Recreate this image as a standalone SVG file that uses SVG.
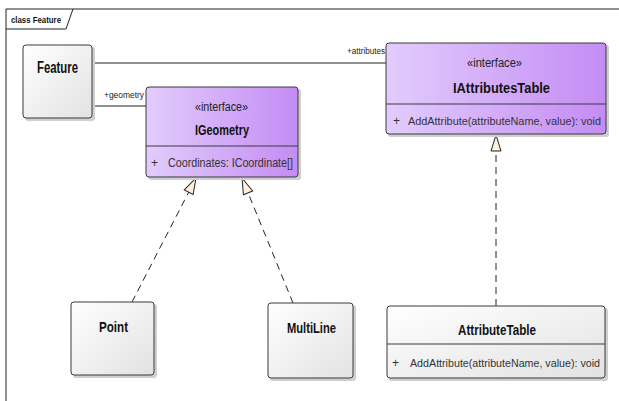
<svg xmlns="http://www.w3.org/2000/svg" width="619" height="401" viewBox="0 0 619 401">
  <defs>
    <linearGradient id="gClass" x1="0" y1="0" x2="1" y2="1">
      <stop offset="0" stop-color="#ffffff"/>
      <stop offset="1" stop-color="#e2e2e2"/>
    </linearGradient>
    <linearGradient id="gIface" x1="0" y1="0" x2="1" y2="0">
      <stop offset="0" stop-color="#e2ccfc"/>
      <stop offset="1" stop-color="#c48cf4"/>
    </linearGradient>
    <marker id="realize" viewBox="0 0 17 12" refX="17" refY="6" markerWidth="17" markerHeight="12" markerUnits="userSpaceOnUse" orient="auto">
      <path d="M1,1 L17,6 L1,11 Z" fill="#fdf0df" stroke="#222" stroke-width="1"/>
    </marker>
  </defs>
  <style>
    .box { stroke: #3a3a3a; stroke-width: 1; }
    .shadow { fill: #cfcfcf; }
    .sep { stroke: #3a3a3a; stroke-width: 1; }
    .name { font-family: "Liberation Sans", Arial, sans-serif; font-weight: bold; fill: #111; }
    .stereo { font-family: "Liberation Sans", Arial, sans-serif; font-size: 12px; fill: #222; }
    .member { font-family: "Liberation Sans", Arial, sans-serif; font-size: 12px; fill: #333; }
    .method { font-family: "Liberation Sans", Arial, sans-serif; font-size: 11px; fill: #333; }
    .role { font-family: "Liberation Sans", Arial, sans-serif; font-size: 8.5px; fill: #222; }
    .assoc { stroke: #222; stroke-width: 1; fill: none; }
    .impl { stroke: #222; stroke-width: 1; fill: none; stroke-dasharray: 7 5; }
  </style>

  <rect x="0" y="0" width="619" height="401" fill="#ffffff"/>

  <!-- package frame -->
  <g id="frame">
    <path d="M6,401 L6,9 L619,9" fill="none" stroke="#222" stroke-width="1"/>
    <path d="M6,29 L66,29 L73,9" fill="none" stroke="#222" stroke-width="1"/>
    <text x="11" y="23" class="name" font-size="9" textLength="50" lengthAdjust="spacingAndGlyphs">class Feature</text>
  </g>

  <!-- connectors -->
  <g id="connectors">
    <line class="assoc" x1="92" y1="63" x2="386" y2="63"/>
    <text class="role" x="385" y="54" text-anchor="end" textLength="38" lengthAdjust="spacingAndGlyphs">+attributes</text>
    <line class="assoc" x1="92" y1="106" x2="146" y2="106"/>
    <text class="role" x="104" y="98" textLength="40" lengthAdjust="spacingAndGlyphs">+geometry</text>
    <line class="impl" x1="132" y1="302" x2="196" y2="178" marker-end="url(#realize)"/>
    <line class="impl" x1="293" y1="303" x2="242" y2="178" marker-end="url(#realize)"/>
    <line class="impl" x1="496" y1="306" x2="496" y2="135" marker-end="url(#realize)"/>
  </g>

  <g id="Feature">
    <rect class="shadow" x="25" y="47" width="70" height="74" rx="3"/>
    <rect class="box" x="23" y="45" width="69" height="73" rx="3" fill="url(#gClass)"/>
    <text class="name" x="37" y="73" font-size="16" textLength="41" lengthAdjust="spacingAndGlyphs">Feature</text>
  </g>

  <g id="IGeometry">
    <rect class="shadow" x="148" y="89" width="153" height="91" rx="3"/>
    <rect class="box" x="146" y="87" width="152" height="90" rx="3" fill="url(#gIface)"/>
    <line class="sep" x1="146" y1="146" x2="298" y2="146"/>
    <text class="stereo" x="195" y="111" textLength="53" lengthAdjust="spacingAndGlyphs">«interface»</text>
    <text class="name" x="195" y="135" font-size="14" textLength="54" lengthAdjust="spacingAndGlyphs">IGeometry</text>
    <text class="member" x="151" y="167">+</text>
    <text class="member" x="168" y="167" textLength="125" lengthAdjust="spacingAndGlyphs">Coordinates: ICoordinate[]</text>
  </g>

  <g id="IAttributesTable">
    <rect class="shadow" x="388" y="45" width="221" height="92" rx="3"/>
    <rect class="box" x="386" y="43" width="220" height="91" rx="3" fill="url(#gIface)"/>
    <line class="sep" x1="386" y1="104" x2="606" y2="104"/>
    <text class="stereo" x="467" y="67" textLength="55" lengthAdjust="spacingAndGlyphs">«interface»</text>
    <text class="name" x="453" y="93" font-size="14" textLength="97" lengthAdjust="spacingAndGlyphs">IAttributesTable</text>
    <text class="member" x="393" y="125">+</text>
    <text class="method" x="408" y="125" textLength="193" lengthAdjust="spacingAndGlyphs">AddAttribute(attributeName, value): void</text>
  </g>

  <g id="Point">
    <rect class="shadow" x="73" y="304" width="84" height="74" rx="3"/>
    <rect class="box" x="71" y="302" width="83" height="73" rx="3" fill="url(#gClass)"/>
    <text class="name" x="99" y="332" font-size="14" textLength="29" lengthAdjust="spacingAndGlyphs">Point</text>
  </g>

  <g id="MultiLine">
    <rect class="shadow" x="270" y="305" width="86" height="76" rx="3"/>
    <rect class="box" x="268" y="303" width="85" height="75" rx="3" fill="url(#gClass)"/>
    <text class="name" x="287" y="333" font-size="14" textLength="49" lengthAdjust="spacingAndGlyphs">MultiLine</text>
  </g>

  <g id="AttributeTable">
    <rect class="shadow" x="389" y="308" width="219" height="73" rx="3"/>
    <rect class="box" x="387" y="306" width="218" height="72" rx="3" fill="url(#gClass)"/>
    <line class="sep" x1="387" y1="344" x2="605" y2="344"/>
    <text class="name" x="458" y="335" font-size="14" textLength="78" lengthAdjust="spacingAndGlyphs">AttributeTable</text>
    <text class="member" x="392" y="367">+</text>
    <text class="method" x="410" y="367" textLength="190" lengthAdjust="spacingAndGlyphs">AddAttribute(attributeName, value): void</text>
  </g>
</svg>
